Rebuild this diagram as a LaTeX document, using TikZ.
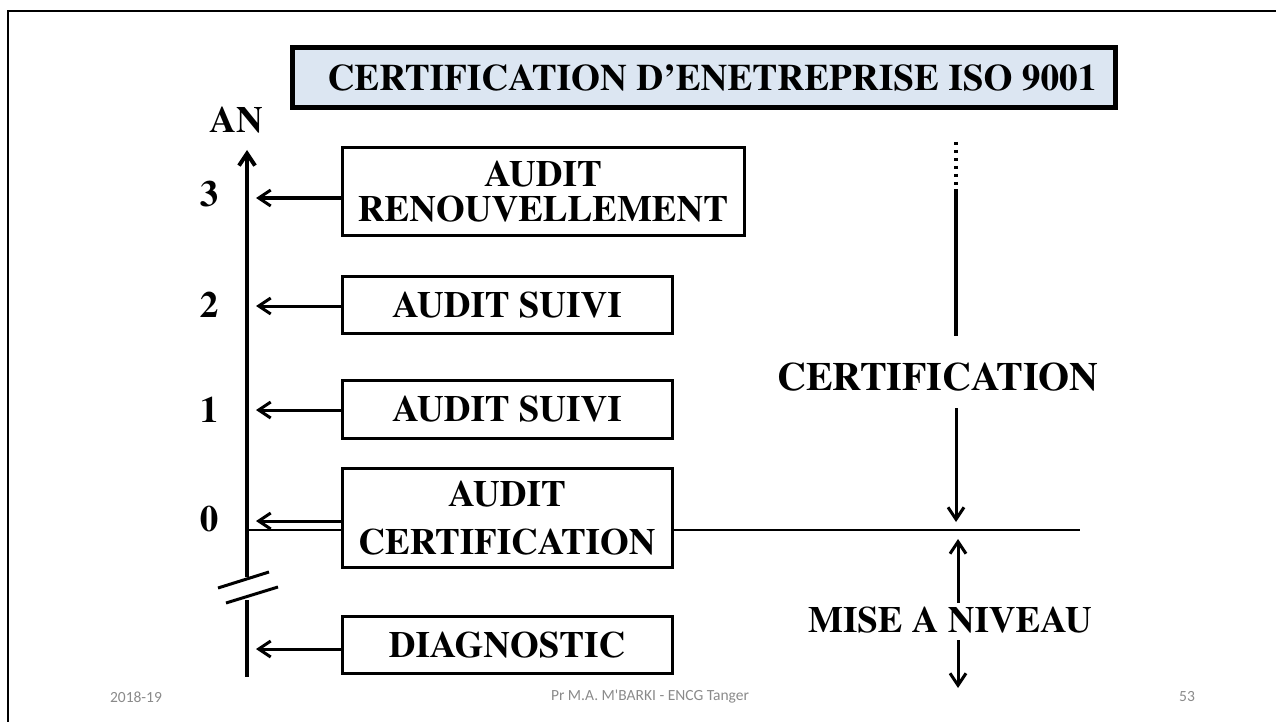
\documentclass[tikz,border=0pt]{standalone}
\usepackage[T1]{fontenc}
\usepackage{fontspec}
\newfontfamily\footfont{Carlito}
\newcommand{\timesbold}{\fontencoding{T1}\fontfamily{ptm}\fontseries{b}\fontshape{n}\selectfont}
\usetikzlibrary{arrows.meta}
\definecolor{titlefill}{HTML}{DCE6F2}
\definecolor{footgray}{HTML}{8A8A8A}
\begin{document}
\begin{tikzpicture}[x=1pt,y=-1pt,
  big/.style={font=\timesbold\fontsize{37}{35}\selectfont},
  abox/.style={big,draw,line width=3pt,inner sep=0pt,align=center,minimum width=330pt},
  plain/.style={big,inner sep=0pt},
  tip/.style={-{Straight Barb[length=12pt,width=16pt]}},
  link/.style={tip,line width=3pt},
  foot/.style={font=\footfont\fontsize{15.5}{17}\selectfont,text=footgray,inner sep=0pt}]
\useasboundingbox (0,0) rectangle (1276,722);
% slide frame
\draw[line width=2.5pt] (8,722) -- (8,11) -- (1276,11);
% title banner
\node[draw,line width=3.5pt,fill=titlefill,minimum width=824pt,minimum height=61pt,inner sep=0pt] (title) at (704,77.5) {};
\draw[line width=1.2pt] ([shift={(4.5,4.5)}]title.north west) rectangle ([shift={(-4.5,-4.5)}]title.south east);
\node[plain,font=\timesbold\fontsize{37.3}{37}\selectfont] (titletext) at (712,78) {CERTIFICATION D'ENETREPRISE ISO 9001};
% year axis
\coordinate (axtop) at (247,150);
\coordinate (axbrk) at (247,577);
\coordinate (axres) at (247,600);
\coordinate (axbot) at (247,677);
\draw[tip,line width=4pt] (axbrk) -- (axtop);
\draw[line width=4pt] (axres) -- (axbot);
\draw[line width=3pt] (218,588) -- (269,572);
\draw[line width=3pt] (226,603) -- (278,587);
\node[plain] (an) at (236,120) {AN};
\node[plain] (y3) at (209,194) {3};
\node[plain] (y2) at (209,305) {2};
\node[plain] (y1) at (209,410) {1};
\node[plain] (y0) at (209,519) {0};
% audit boxes
\node[abox,minimum width=402pt,minimum height=87pt] (b3) at (543,191.5) {AUDIT\\RENOUVELLEMENT};
\node[abox,minimum height=57pt] (b2) at (507,304.5) {AUDIT SUIVI};
\node[abox,minimum height=58pt] (b1) at (507,409) {AUDIT SUIVI};
\node[abox,minimum height=99pt,font=\timesbold\fontsize{37}{48}\selectfont] (b0) at (507,517.5) {AUDIT\\CERTIFICATION};
\node[abox,minimum height=57pt] (bd) at (507,644.5) {DIAGNOSTIC};
% arrows towards the axis
\coordinate (t3) at (256,198);
\coordinate (t2) at (256,306);
\coordinate (t1) at (256,410);
\coordinate (t0) at (256,521);
\coordinate (td) at (256,649);
\draw[link] (b3.west |- t3) -- (t3);
\draw[link] (b2.west |- t2) -- (t2);
\draw[link] (b1.west |- t1) -- (t1);
\draw[link] (b0.west |- t0) -- (t0);
\draw[link] (bd.west |- td) -- (td);
% certification threshold
\coordinate (lvl) at (247,530);
\coordinate (lvlend) at (1080,530);
\draw[line width=2.5pt] (lvl) -- (b0.west |- lvl);
\draw[line width=2.5pt] (b0.east |- lvl) -- (lvlend);
% right-hand phases
\node[plain,font=\timesbold\fontsize{40}{40}\selectfont] (cert) at (938,377) {CERTIFICATION};
\node[plain] (mise) at (950,620) {MISE A NIVEAU};
\coordinate (dtop) at (956,142);
\coordinate (dmid) at (956,189);
\coordinate (send) at (956,336);
\draw[line width=3.5pt,dash pattern=on 3pt off 5pt] (dtop) -- (dmid);
\draw[line width=4pt] (dmid) -- (send);
\coordinate (c1) at (956,408);
\coordinate (c1t) at (956,522);
\draw[link] (c1) -- (c1t);
\coordinate (m1) at (958,603);
\coordinate (m1t) at (958,539);
\draw[link] (m1) -- (m1t);
\coordinate (m2) at (958,640);
\coordinate (m2t) at (958,688);
\draw[link] (m2) -- (m2t);
% footer
\node[foot] (fdate) at (136,697) {2018-19};
\node[foot] (fauth) at (650,697) {Pr M.A. M'BARKI - ENCG Tanger};
\node[foot] (fpage) at (1187,697) {53};
\end{tikzpicture}
\end{document}
